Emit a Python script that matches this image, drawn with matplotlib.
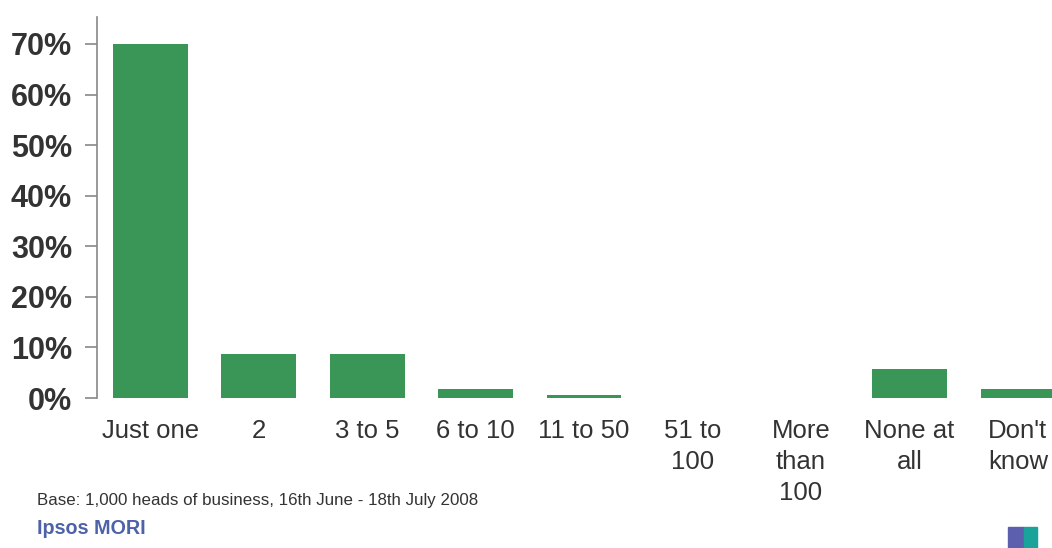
import matplotlib.pyplot as plt
from matplotlib.patches import Rectangle

# Survey answers: number of ... (share of respondents, %)
categories = ["Just one", "2", "3 to 5", "6 to 10", "11 to 50",
              "51 to\n100", "More\nthan\n100", "None at\nall", "Don't\nknow"]
shares = [70, 8.7, 8.7, 1.7, 0.6, 0, 0, 5.7, 1.7]
y_ticks = [0, 10, 20, 30, 40, 50, 60, 70]

bar_color = "#3a9656"
text_color = "#333333"

plt.rcParams["font.family"] = ["Liberation Sans", "DejaVu Sans"]

fig = plt.figure(figsize=(10.52, 5.48), dpi=100)
ax = fig.add_axes([0.0922, 0.2737, 0.928, 0.695])

x = range(len(categories))
ax.bar(x, shares, width=0.69, color=bar_color)

ax.set_xlim(-0.49, 8.51)
ax.set_ylim(0, 75.3)
ax.set_yticks(y_ticks)
ax.set_yticklabels([f"{v}%" for v in y_ticks], fontsize=22, fontweight="bold",
                   color=text_color)
ax.set_xticks(list(x))
ax.set_xticklabels(categories, fontsize=18.5, color=text_color,
                   linespacing=1.36, va="top")

for side in ["top", "right", "bottom"]:
    ax.spines[side].set_visible(False)
ax.spines["left"].set_color("#888888")
ax.spines["left"].set_linewidth(1.2)
ax.tick_params(axis="y", length=9, width=1.2, color="#888888", pad=9)
ax.tick_params(axis="x", length=0, pad=15)

fig.text(0.035, 0.086, "Base: 1,000 heads of business, 16th June - 18th July 2008",
         fontsize=12.2, color=text_color, va="center")
fig.text(0.035, 0.018, "Ipsos MORI", fontsize=14.2, fontweight="bold",
         color="#4d62a8", va="bottom")

# small logo in the bottom right corner
fig.patches.append(Rectangle((0.958, 0.0), 0.015, 0.038, color="#5b5fae",
                             transform=fig.transFigure, figure=fig))
fig.patches.append(Rectangle((0.973, 0.0), 0.013, 0.038, color="#1aa39a",
                             transform=fig.transFigure, figure=fig))

fig.savefig("out.png", dpi=100)
